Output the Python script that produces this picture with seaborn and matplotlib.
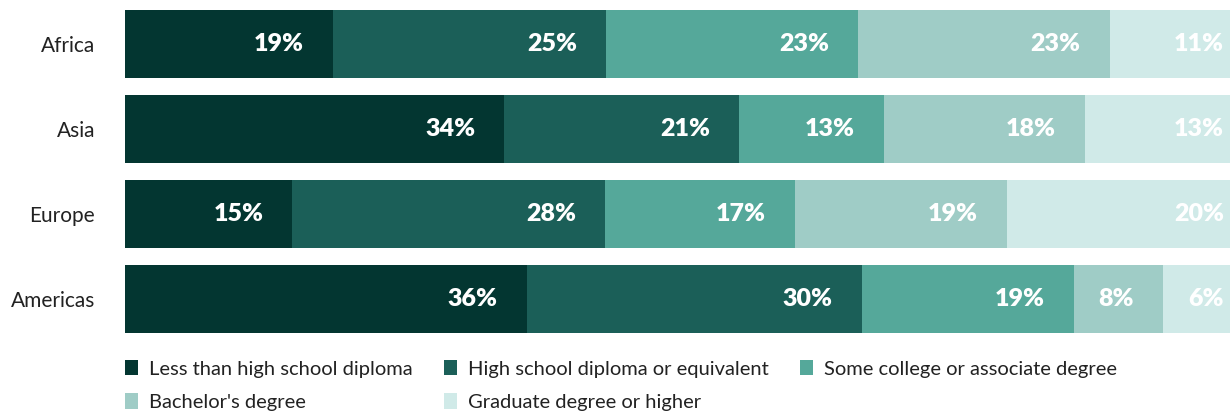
import numpy as np
import pandas as pd
import matplotlib
matplotlib.use("Agg")
import matplotlib.pyplot as plt
from matplotlib.patches import Patch
from matplotlib.transforms import offset_copy
import seaborn as sns

regions = ["Africa", "Asia", "Europe", "Americas"]
levels = [
    "Less than high school diploma",
    "High school diploma or equivalent",
    "Some college or associate degree",
    "Bachelor's degree",
    "Graduate degree or higher",
]
less_hs = [19, 34, 15, 36]
high_school = [25, 21, 28, 30]
some_college = [23, 13, 17, 19]
bachelors = [23, 18, 19, 8]
graduate = [11, 13, 20, 6]
colors = ["#033631", "#1b5f58", "#55a89a", "#9fccc6", "#d0eae8"]

sns.set_theme(style="white")
plt.rcParams["font.family"] = ["Lato", "DejaVu Sans"]

df = pd.DataFrame(
    {lvl: vals for lvl, vals in zip(levels, [less_hs, high_school, some_college, bachelors, graduate])},
    index=regions,
)
# each bar fills the full width, so scale rows to 100
shares = df.div(df.sum(axis=1), axis=0) * 100
cum = shares.cumsum(axis=1)

fig = plt.figure(figsize=(12.3, 4.12), dpi=100)
ax = fig.add_axes([125 / 1230, 70.5 / 412, 1105 / 1230, 340 / 412])

# stacked bars: draw cumulative totals from the last layer to the first
for i in range(len(levels) - 1, -1, -1):
    layer = pd.DataFrame({"region": regions, "x": cum.iloc[:, i].values})
    sns.barplot(data=layer, x="x", y="region", orient="h", color=colors[i],
                saturation=1, width=0.8, ax=ax, linewidth=0)

ax.set_xlim(0, 100)
ax.set_ylim(3.5, -0.5)
ax.set_xlabel("")
ax.set_ylabel("")
ax.set_xticks([])
ax.tick_params(axis="y", length=0, pad=21.5, labelsize=15, labelcolor="#222222")
sns.despine(ax=ax, left=True, bottom=True)

inner = offset_copy(ax.transData, fig=fig, x=-29, y=0, units="dots")
edge = offset_copy(ax.transData, fig=fig, x=-6, y=0, units="dots")
for r, region in enumerate(regions):
    for i, lvl in enumerate(levels):
        tr = edge if i == len(levels) - 1 else inner
        ax.text(cum.loc[region, lvl], r, f"{df.loc[region, lvl]}%", transform=tr,
                ha="right", va="center", color="white", fontsize=18,
                fontweight="heavy")

handles = [Patch(facecolor=c, edgecolor="none", label=l) for c, l in zip(colors, levels)]
order = [0, 3, 1, 4, 2]
fig.legend([handles[k] for k in order], [levels[k] for k in order],
           loc="upper left", bbox_to_anchor=(125 / 1230, 1 - 360 / 412),
           ncol=3, frameon=False, fontsize=14.5, borderpad=0, borderaxespad=0,
           handlelength=0.65, handleheight=0.8, handletextpad=0.55,
           columnspacing=1.55, labelspacing=0.78, labelcolor="#222222")

fig.savefig("out.png", dpi=100)
